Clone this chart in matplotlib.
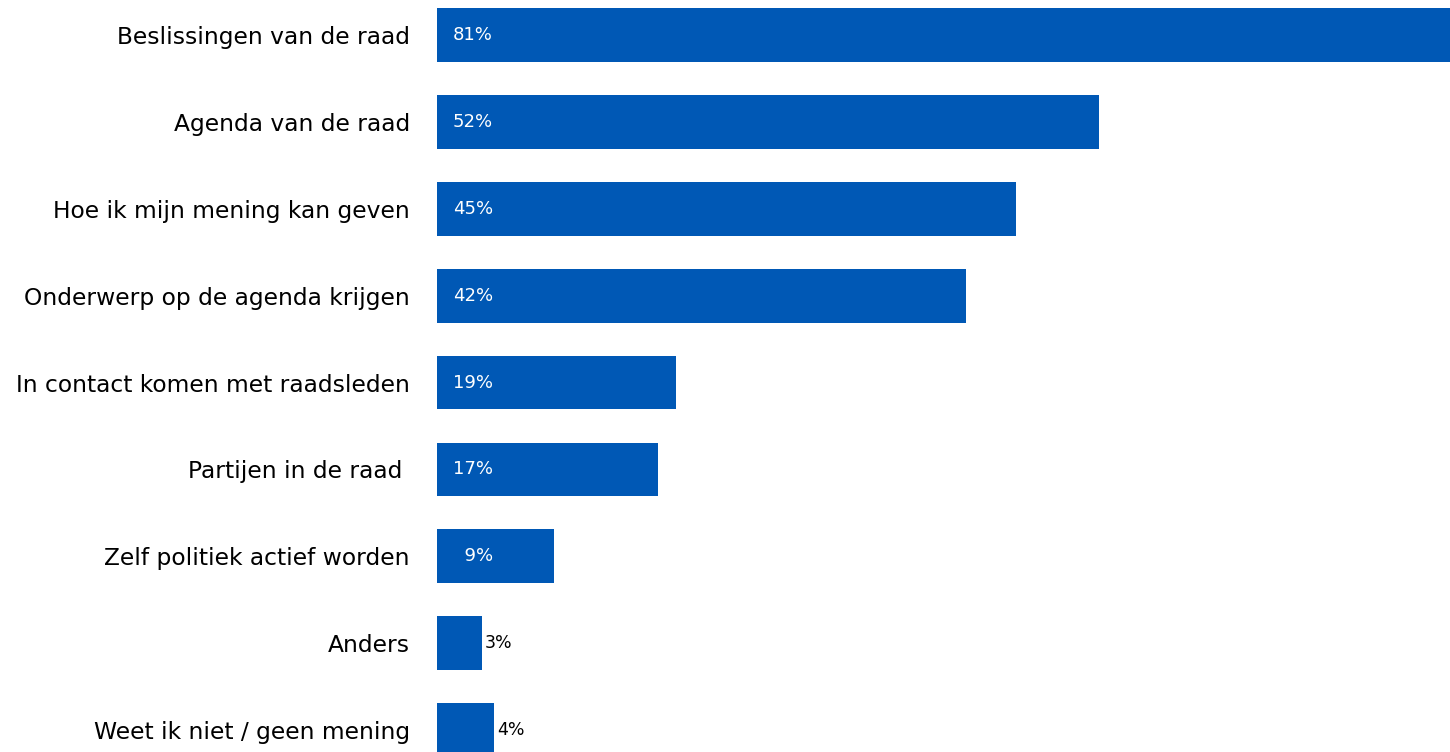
import matplotlib.pyplot as plt

# Data
categories = ['Beslissingen van de raad', 'Agenda van de raad', 'Hoe ik mijn mening kan geven',
              'Onderwerp op de agenda krijgen', 'In contact komen met raadsleden',
              'Partijen in de raad ', 'Zelf politiek actief worden', 'Anders',
              'Weet ik niet / geen mening']
values = [81, 52, 45.5, 41.6, 18.8, 17.4, 9.2, 3.5, 4.5]
labels = ['81%', '52%', '45%', '42%', '19%', '17%', '9%', '3%', '4%']

color = '#0058B5'

fig = plt.figure(figsize=(14.5, 7.52), dpi=100)
ax = fig.add_axes([437/1450, 0, 1 - 437/1450, 1])

ypos = list(range(len(values)))
ax.barh(ypos, values, height=0.62, color=color)
ax.set_xlim(0, 79.6)
ax.set_ylim(8.25, -0.40)

ax.set_yticks(ypos)
ax.set_yticklabels(categories, fontsize=16.8, color='black')
ax.tick_params(axis='y', length=0, pad=19.5)
ax.set_xticks([])
for s in ax.spines.values():
    s.set_visible(False)

# value labels: inside the bar for the larger ones, outside for the small ones
for y, v, lab in zip(ypos, values, labels):
    if v >= 5:
        ax.annotate(lab.rjust(3, '\u2007'), (0, y), xytext=(16, 0), textcoords='offset pixels',
                    ha='left', va='center', color='white', fontsize=13)
    else:
        ax.annotate(lab, (v, y), xytext=(3, 0), textcoords='offset pixels',
                    ha='left', va='center', color='black', fontsize=12.5)

fig.savefig('out.png', dpi=100)
